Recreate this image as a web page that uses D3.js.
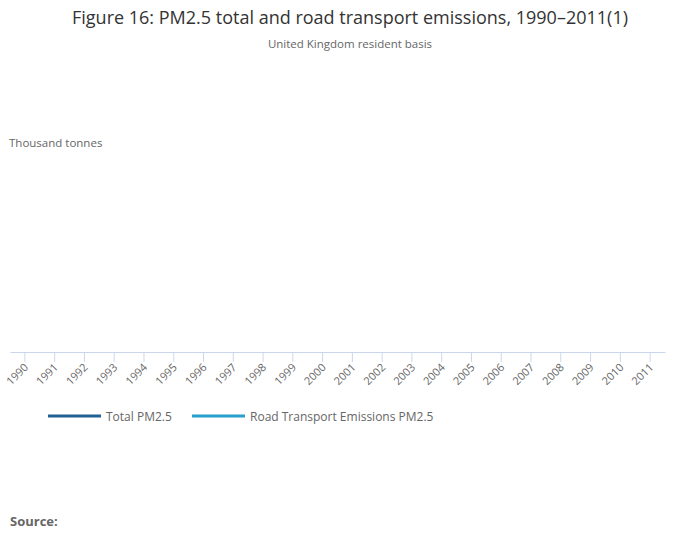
<!DOCTYPE html>
<html><head><meta charset="utf-8">
<script src="https://cdn.jsdelivr.net/npm/d3@7"></script>
<style>body{margin:0;background:#fff;} text{font-family:"Open Sans",sans-serif;}</style>
</head><body>
<svg id="c" width="700" height="549"></svg>
<script>
const categories = ["1990","1991","1992","1993","1994","1995","1996","1997","1998","1999","2000","2001","2002","2003","2004","2005","2006","2007","2008","2009","2010","2011"];
// The reference shows no plotted values for either series
const totalPM25 = [];
const roadTransportPM25 = [];
const seriesNames = ["Total PM2.5","Road Transport Emissions PM2.5"];
const seriesColors = ["#206095","#27a0cc"];

const svg = d3.select("#c");
const W = 700, H = 549;
const plot = {left:10, right:665, top:160, bottom:352};

svg.append("rect").attr("width",W).attr("height",H).attr("fill","#fff");

svg.append("text").attr("x",350).attr("y",24).attr("text-anchor","middle")
  .attr("font-size",18).attr("fill","#333").text("Figure 16: PM2.5 total and road transport emissions, 1990–2011(1)");
svg.append("text").attr("x",350).attr("y",48).attr("text-anchor","middle")
  .attr("font-size",11.5).attr("fill","#666").text("United Kingdom resident basis");
svg.append("text").attr("x",9).attr("y",147)
  .attr("font-size",11.5).attr("fill","#666").text("Thousand tonnes");

const x = d3.scaleBand().domain(categories).range([plot.left, plot.right]);
const y = d3.scaleLinear().domain([0,1]).range([plot.bottom, plot.top]);

const ax = svg.append("g").attr("transform",`translate(0,${plot.bottom})`)
  .call(d3.axisBottom(x).tickSize(10).tickSizeOuter(0));
ax.select(".domain").attr("stroke","#ccd6eb");
ax.selectAll(".tick line").attr("stroke","#ccd6eb");
ax.selectAll(".tick text").attr("font-size",11).attr("fill","#666")
  .attr("font-family","Open Sans, sans-serif")
  .attr("text-anchor","end").attr("dy",null).attr("y",null)
  .attr("transform","translate(4,16) rotate(-45)");

const line = d3.line().x((d,i)=>x(categories[i])+x.bandwidth()/2).y(d=>y(d));
[totalPM25, roadTransportPM25].forEach((s,i)=>{
  if (s.length) svg.append("path").datum(s).attr("d",line).attr("fill","none")
    .attr("stroke",seriesColors[i]).attr("stroke-width",3);
});

const legX = [48,192];
seriesNames.forEach((n,i)=>{
  svg.append("line").attr("x1",legX[i]).attr("x2",legX[i]+53).attr("y1",416).attr("y2",416)
    .attr("stroke",seriesColors[i]).attr("stroke-width",3);
  svg.append("text").attr("x",legX[i]+58).attr("y",420.5).attr("font-size",12).attr("fill","#666").text(n);
});

svg.append("text").attr("x",10).attr("y",526).attr("font-size",13).attr("font-weight","bold")
  .attr("fill","#666").text("Source:");
</script>
</body></html>
